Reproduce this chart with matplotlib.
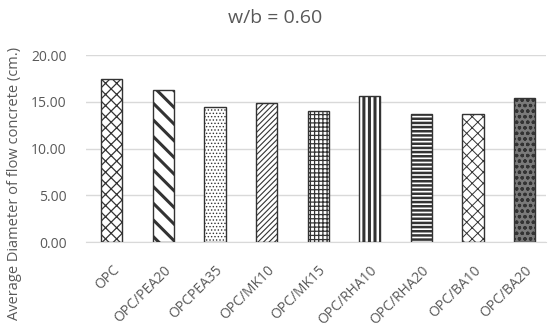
import numpy as np
import matplotlib.pyplot as plt

plt.rcParams['font.family'] = ['Open Sans', 'DejaVu Sans']

mixes = ['OPC', 'OPC/PEA20', 'OPCPEA35', 'OPC/MK10', 'OPC/MK15',
         'OPC/RHA10', 'OPC/RHA20', 'OPC/BA10', 'OPC/BA20']
flow_dia = [17.4, 16.25, 14.4, 14.9, 14.05, 15.6, 13.75, 13.75, 15.4]
hatches = ['xxx', '\\\\', '.....', '//////', '++++', '|||', '----', 'xxx', 'ooo']
hatch_lw = [0.9, 2.2, 0.6, 0.8, 0.9, 2.2, 1.8, 0.7, 0.9]
faces = ['white'] * 8 + ['#7a7a7a']

text_c = '#595959'

fig = plt.figure(figsize=(5.48, 3.32), dpi=100)
ax = fig.add_axes([0.157, 0.271, 0.839, 0.563])

x = np.arange(len(mixes))
for i in range(len(mixes)):
    with plt.rc_context({'hatch.linewidth': hatch_lw[i], 'hatch.color': 'black'}):
        ax.bar(x[i], flow_dia[i], width=0.41, color=faces[i], edgecolor='#333333',
               hatch=hatches[i], linewidth=1.0, zorder=3)

ax.set_ylim(0, 20)
ax.set_xlim(-0.5, 8.41)
ticks = np.arange(0, 20.1, 5)
ax.set_yticks(ticks)
ax.set_yticklabels([f'{v:.2f}' for v in ticks], fontsize=10, color=text_c)
ax.set_xticks(x)
ax.set_xticklabels(mixes, rotation=45, ha='right', rotation_mode='anchor',
                   fontsize=10, color=text_c)
ax.tick_params(axis='y', length=0, pad=14)
ax.tick_params(axis='x', length=0, pad=15)
ax.grid(axis='y', color='#d9d9d9', linewidth=1.0, zorder=0)
for s in ['top', 'right', 'left']:
    ax.spines[s].set_visible(False)
ax.spines['bottom'].set_color('#d9d9d9')

fig.text(0.026, 0.446, 'Average Diameter of flow concrete (cm.)', rotation=90,
         ha='center', va='center', fontsize=10.5, color=text_c)
fig.text(0.502, 0.946, 'w/b = 0.60', ha='center', va='center', fontsize=14, color=text_c)

fig.savefig('out.png', dpi=100)
